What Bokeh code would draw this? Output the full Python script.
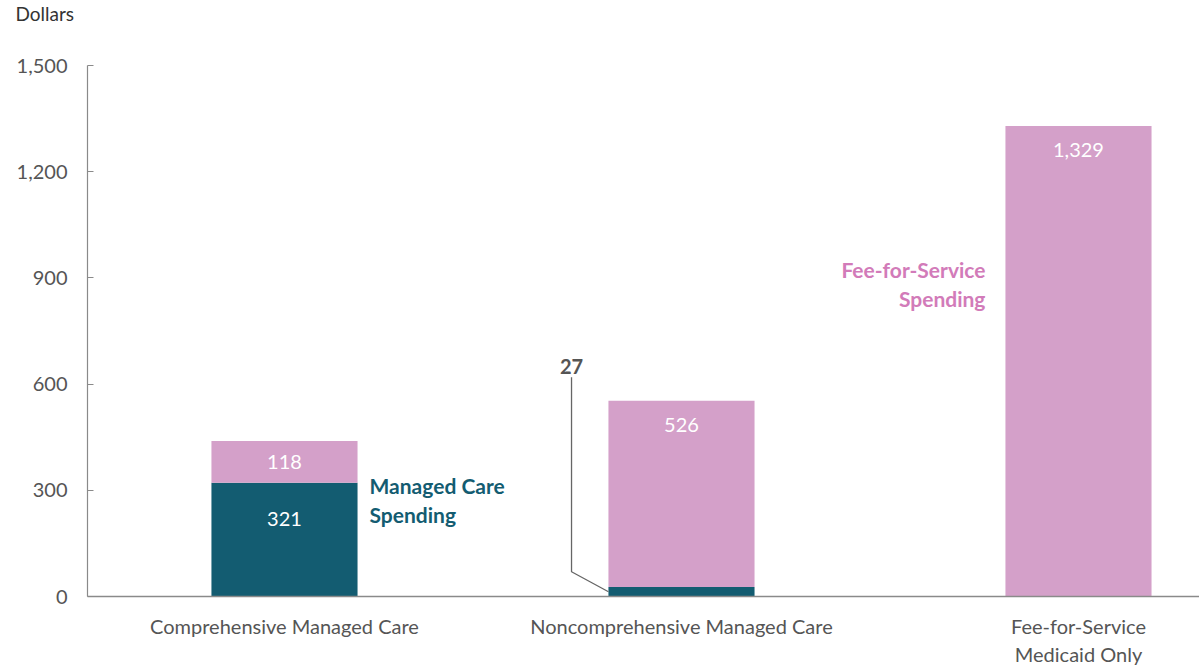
from bokeh.plotting import figure
from bokeh.models import Range1d, FixedTicker, NumeralTickFormatter, Title, ColumnDataSource
from bokeh.core.properties import value
from bokeh.embed import file_html
from bokeh.resources import INLINE

# ---- data ----
categories = ["Comprehensive Managed Care", "Noncomprehensive Managed Care", "Fee-for-Service\nMedicaid Only"]
managed_care = [321, 27, 0]
fee_for_service = [118, 526, 1329]
y_ticks = [0, 300, 600, 900, 1200, 1500]

# ---- style ----
TEAL = "#135C71"
PINK = "#D4A0C9"
PINK_TXT = "#D27BB9"
GRAY_TXT = "#555555"
AXIS = "#8A8A8A"
FONT = "Lato"
BAR_W = 0.368

xs = [i + 1 for i in range(len(categories))]
totals = [m + f for m, f in zip(managed_care, fee_for_service)]

p = figure(width=1199, height=669, output_backend="svg", toolbar_location=None,
           x_range=Range1d(0.5038, 3.3048), y_range=Range1d(0, 1500),
           min_border_left=87, min_border_right=0, min_border_top=65, min_border_bottom=71,
           title=None)
p.outline_line_color = None
p.xgrid.visible = False
p.ygrid.visible = False
p.background_fill_color = "white"

# bars
p.vbar(x=xs, width=BAR_W, bottom=0, top=managed_care, fill_color=TEAL, line_color=None)
p.vbar(x=xs, width=BAR_W, bottom=managed_care, top=totals, fill_color=PINK, line_color=None)

# value labels inside bars (offset downward from segment top, in px)
lx, ly, lt, loff = [], [], [], []
for x, m, t, f in zip(xs, managed_care, totals, fee_for_service):
    lx.append(x); ly.append(t); lt.append(f"{f:,}"); loff.append(21 if m >= 100 else 24)
    if m >= 100:
        lx.append(x); ly.append(m); lt.append(f"{m:,}"); loff.append(36)
src = ColumnDataSource(dict(x=lx, y=ly, t=lt, off=loff))
p.text(x="x", y="y", text="t", y_offset="off", source=src, text_color="white",
       text_font=value(FONT), text_font_size="20px", text_align="center", text_baseline="middle")

# small-segment callout (27)
small_i = 1
left_edge = xs[small_i] - BAR_W / 2
callout_x = left_edge - 0.093
p.line(x=[callout_x, callout_x, left_edge], y=[619, 70, managed_care[small_i] / 2],
       line_color="#666666", line_width=1.3)
p.text(x=[callout_x], y=[650], text=[str(managed_care[small_i])], text_color=GRAY_TXT,
       text_font=value(FONT), text_font_size="20px", text_font_style="bold",
       text_align="center", text_baseline="middle")

# series labels
p.text(x=[xs[0] + BAR_W / 2], y=[272], text=["Managed Care\nSpending"], x_offset=12,
       text_color=TEAL, text_font=value(FONT), text_font_size="21px", text_font_style="bold",
       text_align="left", text_baseline="middle", text_line_height=1.15)
p.text(x=[xs[2] - BAR_W / 2], y=[882], text=["Fee-for-Service\nSpending"], x_offset=-20,
       text_color=PINK_TXT, text_font=value(FONT), text_font_size="21px", text_font_style="bold",
       text_align="right", text_baseline="middle", text_line_height=1.15)

# axes
xa = p.xaxis[0]
xa.ticker = FixedTicker(ticks=xs)
xa.major_label_overrides = {x: c for x, c in zip(xs, categories)}
xa.major_tick_line_color = None
xa.minor_tick_line_color = None
xa.axis_line_color = AXIS
xa.axis_line_width = 1.5
xa.major_label_text_font = FONT
xa.major_label_text_font_size = "20px"
xa.major_label_text_color = GRAY_TXT
xa.major_label_standoff = 11

ya = p.yaxis[0]
ya.ticker = FixedTicker(ticks=y_ticks)
ya.formatter = NumeralTickFormatter(format="0,0")
ya.major_tick_in = 6
ya.major_tick_out = 0
ya.major_tick_line_color = AXIS
ya.minor_tick_line_color = None
ya.axis_line_color = AXIS
ya.axis_line_width = 1.2
ya.major_label_text_font = FONT
ya.major_label_text_font_size = "20px"
ya.major_label_text_color = GRAY_TXT
ya.major_label_standoff = 20

# unit label: a two-line title (second line blank) so the word sits near the top of the border
p.add_layout(Title(text="Dollars\n\u00a0", align="left", offset=-72, standoff=0,
                   vertical_align="top", text_line_height=1.7,
                   text_font=FONT, text_font_size="19px", text_font_style="normal",
                   text_color="#333333"), "above")

open("out.html", "w").write(file_html(p, INLINE))
